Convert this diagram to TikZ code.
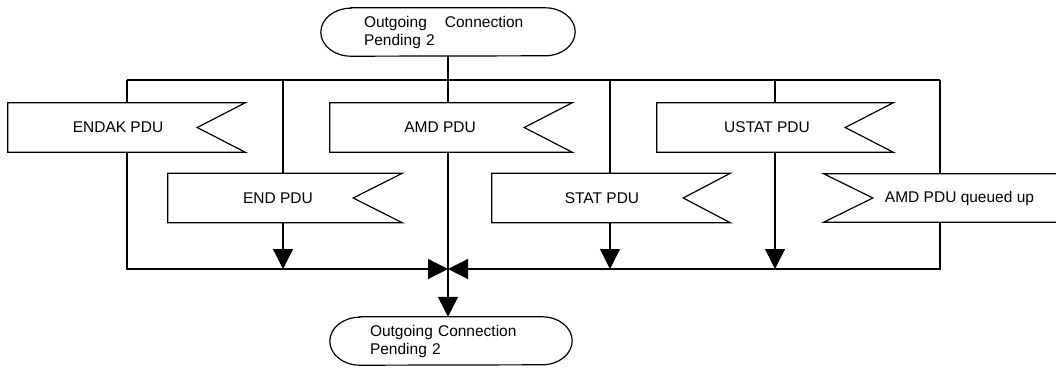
\documentclass[tikz,border=0pt]{standalone}
\usepackage{fontspec}
\setmainfont{Liberation Sans}
\usetikzlibrary{arrows.meta}
\newcommand\flagshape[3]{\draw[line] (#1.north west) -- ([xshift=#2]#1.north east) -- ([xshift=#3]#1.east) -- ([xshift=#2]#1.south east) -- (#1.south west) -- cycle;}
\newcommand\ovalshape[2]{\draw[line] ([xshift=#2]#1.north west) -- ([xshift=-#2]#1.north east) arc[start angle=90, end angle=-90, x radius=#2, y radius=24] -- ([xshift=#2]#1.south west) arc[start angle=270, end angle=90, x radius=#2, y radius=24] -- cycle;}
\begin{document}
\begin{tikzpicture}[x=1pt,y=1pt,
  every node/.style={font=\fontsize{15.5}{18}\selectfont},
  line/.style={line width=1.2pt},
  arr/.style={line width=1.2pt, -{Triangle[length=20pt,width=20pt]}},
  box/.style={draw=none, minimum width=220pt, minimum height=49pt, inner sep=0pt},
  oval/.style={draw=none, minimum height=48pt, inner sep=0pt, align=left}]
\useasboundingbox (0,0) rectangle (1056,-369);
\clip (0,0) rectangle (1056,-369);
% terminals
\node[oval, minimum width=254pt, text width=168pt] (top) at (448,-32) {Outgoing\hspace{18pt}Connection\\Pending 2};
\node[oval, minimum width=242pt, text width=162pt] (bot) at (451,-341) {Outgoing Connection\\Pending 2};
\ovalshape{top}{30}
\ovalshape{bot}{30}
% flags
\node[box] (endak) at (118,-127.5) {ENDAK PDU};
\node[box] (amd) at (440,-127.5) {AMD PDU};
\node[box] (ustat) at (767,-127.5) {USTAT PDU};
\node[box] (endp) at (278,-198) {END PDU};
\node[box] (stat) at (602,-198) {STAT PDU};
\node[draw=none, minimum width=271pt, minimum height=48pt, inner sep=0pt] (queued) at (959.5,-198) {AMD PDU queued up};
\flagshape{endak}{17}{-31}
\flagshape{amd}{22}{-26}
\flagshape{ustat}{16}{-32}
\flagshape{endp}{14}{-35}
\flagshape{stat}{18}{-29}
\draw[line] (queued.north east) -- (queued.north west) -- ([xshift=49pt]queued.west) -- (queued.south west) -- (queued.south east);
% branch lines
\coordinate (t1) at (127,-80);
\coordinate (t2) at (283,-80);
\coordinate (t3) at (448,-80);
\coordinate (t4) at (610,-80);
\coordinate (t5) at (775,-80);
\coordinate (t6) at (940,-80);
\coordinate (b1) at (127,-269);
\coordinate (b2) at (283,-269);
\coordinate (J) at (448,-269);
\coordinate (b4) at (610,-269);
\coordinate (b5) at (775,-269);
\coordinate (b6) at (940,-269);
\draw[line] (t1) -- (t6);
\draw[line] (top.south) -- (t3 |- amd.north);
\draw[line] (t1) -- (t1 |- endak.north);
\draw[arr] (t1 |- endak.south) -- (b1) -- (J);
\draw[line] (t2) -- (t2 |- endp.north);
\draw[arr] (t2 |- endp.south) -- (b2);
\draw[line] (t3 |- amd.south) -- (J);
\draw[arr] (J) -- (J |- bot.north);
\draw[line] (t4) -- (t4 |- stat.north);
\draw[arr] (t4 |- stat.south) -- (b4);
\draw[line] (t5) -- (t5 |- ustat.north);
\draw[arr] (t5 |- ustat.south) -- (b5);
\draw[line] (t6) -- (t6 |- queued.north);
\draw[arr] (t6 |- queued.south) -- (b6) -- (J);
\end{tikzpicture}
\end{document}
